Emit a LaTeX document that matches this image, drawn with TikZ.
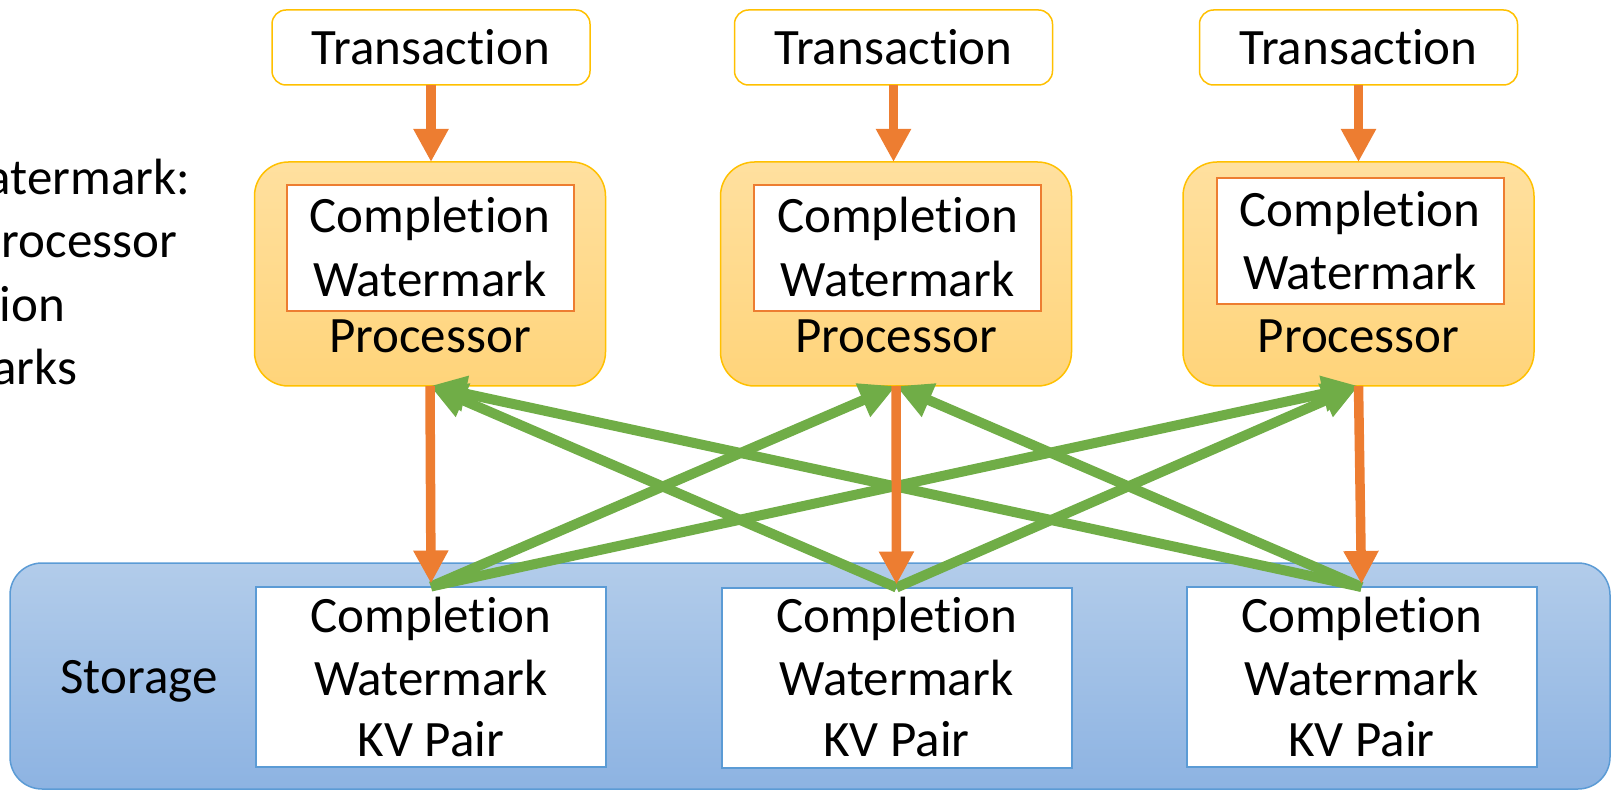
\documentclass[tikz,border=0pt]{standalone}
\usepackage{fontspec}
\setmainfont{Carlito}[Ligatures=NoCommon]
\usetikzlibrary{arrows.meta}
\definecolor{gold}{HTML}{FFC000}
\definecolor{orng}{HTML}{ED7D31}
\definecolor{grn}{HTML}{70AD47}
\definecolor{blu}{HTML}{5B9BD5}
\definecolor{proctop}{HTML}{FFE09F}
\definecolor{procbot}{HTML}{FFD47A}
\definecolor{stortop}{HTML}{B2CCEA}
\definecolor{storbot}{HTML}{8DB3E2}
\begin{document}
\begin{tikzpicture}[x=1pt,y=-1pt,
  every node/.style={font=\fontsize{51}{63}\selectfont, inner sep=0pt, outer sep=0pt},
  txbox/.style={draw=gold, line width=1.5pt, fill=white, rounded corners=14pt, minimum width=318pt, minimum height=75pt},
  procbox/.style={draw=gold, line width=1.5pt, rounded corners=34pt, top color=proctop, bottom color=procbot, minimum width=351pt, minimum height=224pt},
  wmbox/.style={draw=orng, line width=2pt, fill=white, minimum width=287pt, minimum height=126pt},
  kvbox/.style={draw=blu, line width=2pt, fill=white, minimum width=350pt, minimum height=180pt},
  storbox/.style={draw=blu, line width=1.5pt, rounded corners=32pt, top color=stortop, bottom color=storbot},
  txt/.style={anchor=base},
  lbl/.style={anchor=base east},
  oarrow/.style={draw=orng, line width=9.5pt, -{Triangle[length=33pt,width=33pt]}},
  garrow/.style={draw=grn, line width=10pt, -{Triangle[length=36pt,width=34pt]}},
]
\useasboundingbox (0,0) rectangle (1612,791);

% left clipped text
\begin{scope}
\clip (0,0) rectangle (1612,791);
\node[lbl] (l1) at (190,195) {atermark:};
\node[lbl] (l2) at (177,258) {rocessor};
\node[lbl] (l3) at (65,322) {ion};
\node[lbl] (l4) at (77,385) {arks};
\end{scope}

% storage
\node[storbox, minimum width=1600pt, minimum height=226pt] (stor) at (810,676) {};
\node[txt] (storlbl) at (139,693) {Storage};

% transactions
\node[txbox] (t1) at (431,47.5) {};
\node[txbox] (t2) at (893.5,47.5) {};
\node[txbox] (t3) at (1358.5,47.5) {};
\node[txt] at (431,65) {Transaction};
\node[txt] at (893.5,65) {Transaction};
\node[txt] at (1358.5,65) {Transaction};

% processors
\node[procbox] (p1) at (430,274) {};
\node[procbox] (p2) at (896,274) {};
\node[procbox] (p3) at (1358.5,274) {};
\node[wmbox] (w1) at (430,248.5) {};
\node[wmbox] (w2) at (897.5,248) {};
\node[wmbox] (w3) at (1360,241.5) {};
\node[txt] at (430,233) {Completion};
\node[txt] at (430,297) {Watermark};
\node[txt] at (897.5,233) {Completion};
\node[txt] at (897.5,297) {Watermark};
\node[txt] at (1360,227) {Completion};
\node[txt] at (1360,290) {Watermark};
\node[txt] at (430,353) {Processor};
\node[txt] at (896,353) {Processor};
\node[txt] at (1358.5,353) {Processor};

% KV pairs
\node[kvbox] (k1) at (431,676.5) {};
\node[kvbox] (k2) at (896.5,677.5) {};
\node[kvbox] (k3) at (1361.5,677) {};
\foreach \x in {431,896.5,1361.5}{
  \node[txt] at (\x,632) {Completion};
  \node[txt] at (\x,695) {Watermark};
  \node[txt] at (\x,756) {KV Pair};
}

% green arrows
\draw[garrow] (k1.north) -- (p2.south);
\draw[garrow] (k1.north) -- (p3.south);
\draw[garrow] (k2.north) -- (p1.south);
\draw[garrow] (k2.north) -- (p3.south);
\draw[garrow] (k3.north) -- (p1.south);
\draw[garrow] (k3.north) -- (p2.south);

% orange arrows
\draw[oarrow] (t1.south) -- (t1.south |- p1.north);
\draw[oarrow] (t2.south) -- (t2.south |- p2.north);
\draw[oarrow] (t3.south) -- (t3.south |- p3.north);
\draw[oarrow] (p1.south) -- ([yshift=3pt]k1.north);
\draw[oarrow] (p2.south) -- ([yshift=3pt]k2.north);
\draw[oarrow] (p3.south) -- ([yshift=3pt]k3.north);
\end{tikzpicture}
\end{document}
